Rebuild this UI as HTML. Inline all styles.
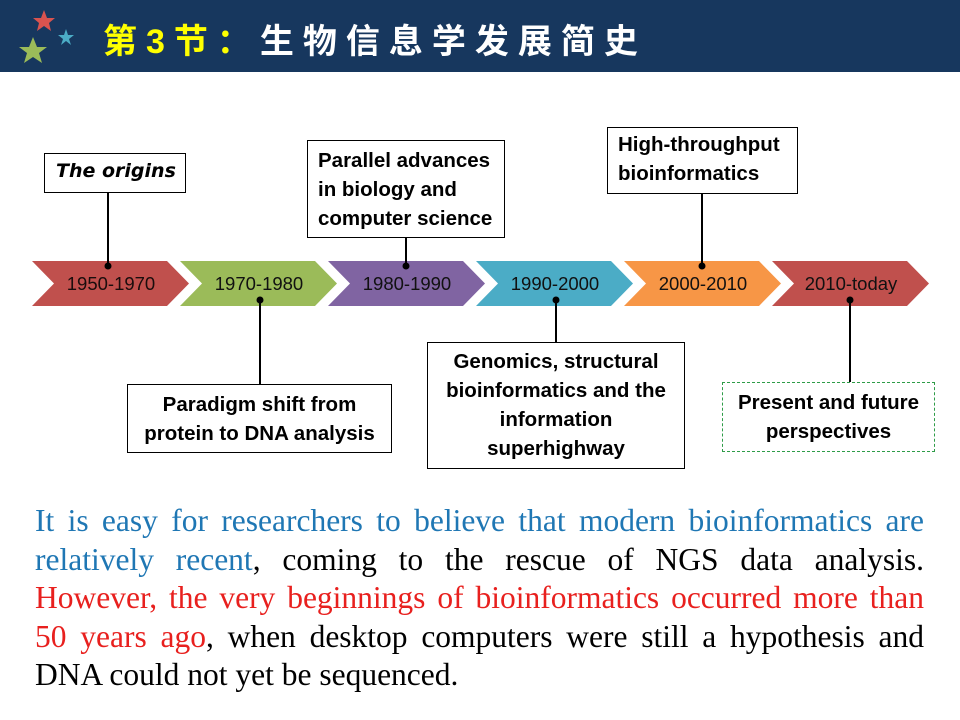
<!DOCTYPE html>
<html><head><meta charset="utf-8"><style>
body{margin:0;width:960px;height:720px;background:#fff;position:relative;overflow:hidden;font-family:"Liberation Sans",sans-serif}
.hdr{position:absolute;left:0;top:0;width:960px;height:72px;background:#17375e}
.title{position:absolute;left:103px;top:14px;font-family:"Liberation Sans","Noto Sans CJK SC",sans-serif;font-size:34px;font-weight:bold;color:#fff;letter-spacing:9px;white-space:nowrap}
.title span{color:#ffff00}
.box{position:absolute;border:1.3px solid #000;background:#fff;box-sizing:border-box;font-family:"Liberation Sans","DejaVu Sans",sans-serif;font-weight:bold;font-size:20.5px;line-height:29px;color:#000;white-space:nowrap}
.para{position:absolute;left:35px;top:502px;width:889px;font-family:"Liberation Serif",serif;font-size:31.5px;line-height:38.6px;color:#000}
.para div{text-align:justify;text-align-last:justify;white-space:nowrap}
.para div.last{text-align-last:left}
.b{color:#1f77b4}.r{color:#e8201e}
</style></head><body>
<div class="hdr"></div>
<svg style="position:absolute;left:0;top:0" width="100" height="72">
<polygon points="44,10 47,18 55,18 49,23 51,31 44,26 37,31 39,23 33,18 41,18" fill="#d9534f"/>
<polygon points="66,29 68,35 74,35 69,39 71,45 66,41 61,45 63,39 58,35 64,35" fill="#4bacc6"/>
<polygon points="33,37 37,47 47,47 39,53 42,63 33,57 24,63 27,53 19,47 29,47" fill="#9bbb59"/>
</svg>
<div class="title"><span>第3节：</span>生物信息学发展简史</div>
<svg style="position:absolute;left:0;top:0" width="960" height="720">
<g font-family="Liberation Sans, sans-serif" font-size="18.5" text-anchor="middle">
<polygon points="32,261 167,261 189,283.5 167,306 32,306 54,283.5" fill="#c0504d"/>
<text x="111" y="290" fill="#1a0d0d">1950-1970</text>
<polygon points="180,261 315,261 337,283.5 315,306 180,306 202,283.5" fill="#9bbb59"/>
<text x="259" y="290" fill="#111">1970-1980</text>
<polygon points="328,261 463,261 485,283.5 463,306 328,306 350,283.5" fill="#8064a2"/>
<text x="407" y="290" fill="#111">1980-1990</text>
<polygon points="476,261 611,261 633,283.5 611,306 476,306 498,283.5" fill="#4bacc6"/>
<text x="555" y="290" fill="#111">1990-2000</text>
<polygon points="624,261 759,261 781,283.5 759,306 624,306 646,283.5" fill="#f79646"/>
<text x="703" y="290" fill="#111">2000-2010</text>
<polygon points="772,261 907,261 929,283.5 907,306 772,306 794,283.5" fill="#c0504d"/>
<text x="851" y="290" fill="#111">2010-today</text>
</g>
<g stroke="#000" stroke-width="2">
<line x1="108" y1="192" x2="108" y2="266"/><line x1="406" y1="237" x2="406" y2="266"/>
<line x1="702" y1="193" x2="702" y2="266"/><line x1="260" y1="300" x2="260" y2="384"/>
<line x1="556" y1="300" x2="556" y2="342"/><line x1="850" y1="300" x2="850" y2="382"/>
</g>
<g fill="#000"><circle cx="108" cy="266" r="3.5"/><circle cx="406" cy="266" r="3.5"/><circle cx="702" cy="266" r="3.5"/><circle cx="260" cy="300" r="3.5"/><circle cx="556" cy="300" r="3.5"/><circle cx="850" cy="300" r="3.5"/></g>
</svg>
<div class="box" style="left:44px;top:153px;width:142px;height:40px;font-family:'DejaVu Sans',sans-serif;font-style:italic;font-size:19px;line-height:34px;padding-left:11px">The origins</div>
<div class="box" style="left:307px;top:140px;width:198px;height:98px;padding:5px 0 0 10px">Parallel advances<br>in biology and<br>computer science</div>
<div class="box" style="left:607px;top:127px;width:191px;height:67px;padding:2px 0 0 10px">High-throughput<br>bioinformatics</div>
<div class="box" style="left:127px;top:384px;width:265px;height:69px;padding-top:5px;text-align:center">Paradigm shift from<br>protein to DNA analysis</div>
<div class="box" style="left:427px;top:342px;width:258px;height:127px;padding-top:4px;text-align:center">Genomics, structural<br>bioinformatics and the<br>information<br>superhighway</div>
<div class="box" style="left:722px;top:382px;width:213px;height:70px;padding-top:5px;text-align:center;border:1.5px dashed #2e9c48">Present and future<br>perspectives</div>
<div class="para">
<div><span class="b">It is easy for researchers to believe that modern bioinformatics are</span></div>
<div><span class="b">relatively recent</span>, coming to the rescue of NGS data analysis.</div>
<div><span class="r">However, the very beginnings of bioinformatics occurred more than</span></div>
<div><span class="r">50 years ago</span>, when desktop computers were still a hypothesis and</div>
<div class="last">DNA could not yet be sequenced.</div>
</div>
</body></html>
